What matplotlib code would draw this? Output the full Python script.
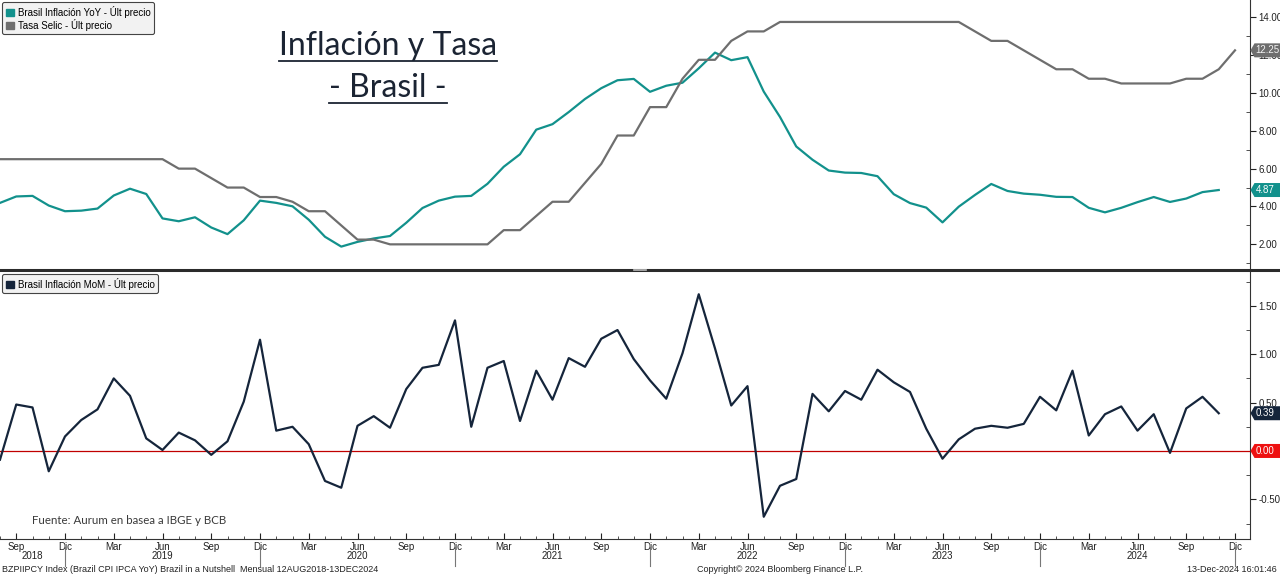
import numpy as np
import pandas as pd
import matplotlib
matplotlib.use('Agg')
import matplotlib.pyplot as plt
import matplotlib.patches as mpatches
import matplotlib.transforms as mtransforms
from matplotlib.ticker import FixedLocator, FuncFormatter, MultipleLocator

plt.rcParams['font.family'] = ['Liberation Sans', 'DejaVu Sans']

# meses (ago 2018 - nov/dic 2024)
meses_ipca = pd.date_range('2018-08-01', periods=76, freq='MS')
meses_selic = pd.date_range('2018-08-01', periods=77, freq='MS')

ipca_yoy = [4.19, 4.53, 4.56, 4.05, 3.75,
            3.78, 3.89, 4.58, 4.94, 4.66, 3.37, 3.22, 3.43, 2.89, 2.54, 3.27, 4.31,
            4.19, 4.01, 3.30, 2.40, 1.88, 2.13, 2.31, 2.44, 3.14, 3.92, 4.31, 4.52,
            4.56, 5.20, 6.10, 6.76, 8.06, 8.35, 8.99, 9.68, 10.25, 10.67, 10.74, 10.06,
            10.38, 10.54, 11.30, 12.13, 11.73, 11.89, 10.07, 8.73, 7.17, 6.47, 5.90, 5.79,
            5.77, 5.60, 4.65, 4.18, 3.94, 3.16, 3.99, 4.61, 5.19, 4.82, 4.68, 4.62,
            4.51, 4.50, 3.93, 3.69, 3.93, 4.23, 4.50, 4.24, 4.42, 4.76, 4.87]

ipca_mom = [-0.09, 0.48, 0.45, -0.21, 0.15,
            0.32, 0.43, 0.75, 0.57, 0.13, 0.01, 0.19, 0.11, -0.04, 0.10, 0.51, 1.15,
            0.21, 0.25, 0.07, -0.31, -0.38, 0.26, 0.36, 0.24, 0.64, 0.86, 0.89, 1.35,
            0.25, 0.86, 0.93, 0.31, 0.83, 0.53, 0.96, 0.87, 1.16, 1.25, 0.95, 0.73,
            0.54, 1.01, 1.62, 1.06, 0.47, 0.67, -0.68, -0.36, -0.29, 0.59, 0.41, 0.62,
            0.53, 0.84, 0.71, 0.61, 0.23, -0.08, 0.12, 0.23, 0.26, 0.24, 0.28, 0.56,
            0.42, 0.83, 0.16, 0.38, 0.46, 0.21, 0.38, -0.02, 0.44, 0.56, 0.39]

selic = [6.50, 6.50, 6.50, 6.50, 6.50,
         6.50, 6.50, 6.50, 6.50, 6.50, 6.50, 6.00, 6.00, 5.50, 5.00, 5.00, 4.50,
         4.50, 4.25, 3.75, 3.75, 3.00, 2.25, 2.25, 2.00, 2.00, 2.00, 2.00, 2.00,
         2.00, 2.00, 2.75, 2.75, 3.50, 4.25, 4.25, 5.25, 6.25, 7.75, 7.75, 9.25,
         9.25, 10.75, 11.75, 11.75, 12.75, 13.25, 13.25, 13.75, 13.75, 13.75, 13.75, 13.75,
         13.75, 13.75, 13.75, 13.75, 13.75, 13.75, 13.75, 13.25, 12.75, 12.75, 12.25, 11.75,
         11.25, 11.25, 10.75, 10.75, 10.50, 10.50, 10.50, 10.50, 10.75, 10.75, 11.25, 12.25]

nombres_mes = {3: 'Mar', 6: 'Jun', 9: 'Sep', 12: 'Dic'}

c_yoy = '#12918c'
c_selic = '#6e6e6e'
c_mom = '#15253b'
c_cero = '#c00000'
txt = '#222222'

x_ipca = np.arange(len(meses_ipca))
x_selic = np.arange(len(meses_selic))

fig = plt.figure(figsize=(12.8, 5.75), dpi=100)
ax1 = fig.add_axes([0, 1 - 268 / 575, 1250 / 1280, 268 / 575])
ax2 = fig.add_axes([0, 1 - 539 / 575, 1250 / 1280, 267 / 575])

ax1.plot(x_ipca, ipca_yoy, color=c_yoy, lw=1.6)
ax1.plot(x_selic, selic, color=c_selic, lw=1.6)
ax2.plot(x_ipca, ipca_mom, color=c_mom, lw=1.6)
ax2.axhline(0, color=c_cero, lw=0.9, zorder=1)

xmax = 1250 / 16.25
for ax in (ax1, ax2):
    ax.set_xlim(0, xmax)
    for s in ('left', 'top'):
        ax.spines[s].set_visible(False)
    ax.spines['right'].set_color('#333333')
    ax.spines['bottom'].set_color('#333333')
    ax.yaxis.tick_right()
    ax.tick_params(axis='y', which='major', direction='out', length=4, width=0.8,
                   labelsize=7, colors=txt, pad=2)
    ax.tick_params(axis='y', which='minor', direction='in', length=3, width=0.6, colors='#333333')

ax1.set_ylim(0.75, 14.91)
ax1.yaxis.set_major_locator(MultipleLocator(2))
ax1.yaxis.set_minor_locator(MultipleLocator(1))
ax1.yaxis.set_major_formatter(FuncFormatter(lambda v, p: f'{v:.2f}'))
ax1.spines['bottom'].set_visible(False)
ax1.set_xticks([])

ax2.set_ylim(-0.91, 1.85)
ax2.yaxis.set_major_locator(FixedLocator([-0.5, 0.0, 0.5, 1.0, 1.5]))
ax2.yaxis.set_minor_locator(MultipleLocator(0.25))
# la etiqueta 0.00 queda tapada por la marca roja
ax2.yaxis.set_major_formatter(FuncFormatter(lambda v, p: '' if abs(v) < 1e-9 else f'{v:.2f}'))

# eje x: meses y trimestres
pos_trim = [i for i, m in enumerate(meses_selic) if m.month in nombres_mes]
ax2.set_xticks(pos_trim)
ax2.set_xticklabels([nombres_mes[meses_selic[i].month] for i in pos_trim])
ax2.set_xticks(x_selic, minor=True)
ax2.tick_params(axis='x', which='major', direction='in', length=4, labelsize=7, colors=txt, pad=2)
ax2.tick_params(axis='x', which='minor', direction='in', length=2, colors='#333333')

trans = mtransforms.blended_transform_factory(ax2.transData, ax2.transAxes)
for i, m in enumerate(meses_selic):
    if m.month == 12:
        ax2.plot([i, i], [-0.03, -0.10], color='#777777', lw=0.8, transform=trans, clip_on=False)
    if m.month == 6:
        ax2.text(i, -0.065, str(m.year), transform=trans, ha='center', va='center',
                 fontsize=7, color=txt)
ax2.text(2, -0.065, '2018', transform=trans, ha='center', va='center', fontsize=7, color=txt)


def etiqueta(ax, v, color, fc_txt='white'):
    # marca de ultimo valor: pentagono con punta hacia el eje
    pos = mtransforms.ScaledTranslation(1.0, v, ax.get_yaxis_transform())
    tr = fig.dpi_scale_trans + pos
    h, w, p = 0.07, 0.30, 0.045
    pts = [(0.005, 0), (p, h), (w, h), (w, -h), (p, -h)]
    ax.add_patch(mpatches.Polygon(pts, closed=True, fc=color, ec='none', transform=tr,
                                  clip_on=False, zorder=6))
    ax.text(0.055, 0, f'{v:.2f}', transform=tr, ha='left', va='center', fontsize=7,
            color=fc_txt, zorder=7, clip_on=False)


etiqueta(ax1, selic[-1], c_selic, '#f2f2f2')
etiqueta(ax1, ipca_yoy[-1], c_yoy)
etiqueta(ax2, ipca_mom[-1], c_mom)
etiqueta(ax2, 0.0, '#ee1111')

ley_kw = dict(loc='upper left', fontsize=7, frameon=True, fancybox=True,
              handlelength=0.8, handleheight=0.8, handletextpad=0.4,
              borderpad=0.35, labelspacing=0.1, borderaxespad=0.25)
h1 = [mpatches.Patch(color=c_yoy), mpatches.Patch(color=c_selic)]
l1 = ax1.legend(h1, ['Brasil Inflación YoY - Últ precio', 'Tasa Selic - Últ precio'], **ley_kw)
h2 = [mpatches.Patch(color=c_mom)]
l2 = ax2.legend(h2, ['Brasil Inflación MoM - Últ precio'], **ley_kw)
for lg in (l1, l2):
    lg.get_frame().set_facecolor('#f2f2f2')
    lg.get_frame().set_edgecolor('#444444')
    lg.get_frame().set_alpha(1)
    lg.get_frame().set_linewidth(0.8)

# titulo
for t, y in [('Inflación y Tasa', 1 - 55 / 575), ('- Brasil -', 1 - 97 / 575)]:
    tx = fig.text(388 / 1280, y, t, ha='center', va='baseline', fontsize=23,
                  family='Lato', color='#1b2433')
    fig.canvas.draw()
    bb = tx.get_window_extent()
    yl = y - 6 / 575
    fig.add_artist(plt.Line2D([bb.x0 / 1280, bb.x1 / 1280], [yl, yl], color='#1b2433', lw=1.3))

fig.text(32 / 1280, 1 - 521 / 575, 'Fuente: Aurum en basea a IBGE y BCB', fontsize=8.3,
         family='Lato', color='#3a3a3a', va='center')

# separador de paneles
fig.add_artist(plt.Line2D([0, 1], [1 - 269.5 / 575] * 2, color='#2b2b2b', lw=2.2))
fig.add_artist(plt.Line2D([634 / 1280, 646 / 1280], [1 - 269.5 / 575] * 2, color='#bbbbbb', lw=1.2))

# pie
fig.text(2 / 1280, 1 - 569 / 575,
         'BZPIIPCY Index (Brazil CPI IPCA YoY) Brazil in a Nutshell  Mensual 12AUG2018-13DEC2024',
         fontsize=6.5, color=txt, va='center')
fig.text(780 / 1280, 1 - 569 / 575, 'Copyright© 2024 Bloomberg Finance L.P.',
         fontsize=6.5, color=txt, va='center', ha='center')
fig.text(1277 / 1280, 1 - 569 / 575, '13-Dec-2024 16:01:46',
         fontsize=6.5, color=txt, va='center', ha='right')

fig.savefig('out.png', dpi=100)
